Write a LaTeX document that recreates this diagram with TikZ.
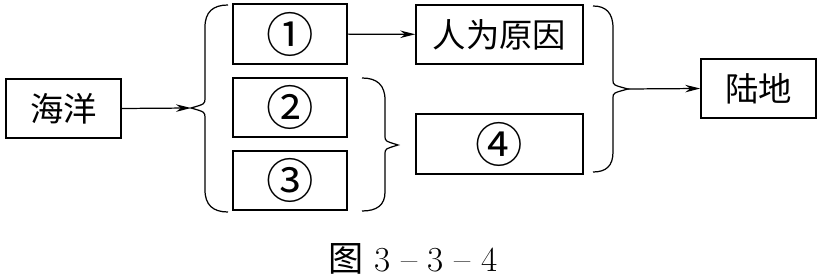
\documentclass[tikz,border=0pt]{standalone}
\usepackage{fontspec}
\newfontfamily\cjk{Noto Sans CJK SC}
\usetikzlibrary{arrows.meta}

\begin{document}
\begin{tikzpicture}[x=0.02cm,y=-0.02cm,line width=0.7pt,>={Stealth[length=3mm,width=1.5mm]},
  box/.style={draw,line width=0.9pt,inner sep=0pt,minimum height=1.19cm,font=\cjk\fontsize{19}{19}\selectfont},
  numbox/.style={box,minimum width=2.28cm,font=\cjk\fontsize{27}{27}\selectfont}]
\useasboundingbox (0,0) rectangle (820,276);
% 方框
\node[box,minimum width=2.3cm] (ocean) at (63.5,108.5) {海洋};
\node[numbox] (c1) at (290,34) {①};
\node[numbox] (c2) at (290,107.5) {②};
\node[numbox] (c3) at (290,180.5) {③};
\node[box,minimum width=3.34cm] (human) at (499.5,34.5) {人为原因};
\node[box,minimum width=3.34cm,font=\cjk\fontsize{27}{27}\selectfont] (c4) at (499.5,144) {④};
\node[box,minimum width=2.3cm] (land) at (758.5,88.5) {陆地};
% 括号尖端
\coordinate (lbrace) at (191,108);
\coordinate (mbrace) at (398,145);
\coordinate (rbrace) at (628,89);
% 左大括号
\draw (228,5) .. controls (213,5) and (205,12) .. (205,27) -- (205,98)
  .. controls (205,104) .. (lbrace) .. controls (205,112) .. (205,118) -- (205,190)
  .. controls (205,205) and (213,212) .. (228,212);
% ②③ 右括号
\draw (362,78) .. controls (377,78) and (385,85) .. (385,100) -- (385,136)
  .. controls (385,141) .. (mbrace) .. controls (385,149) .. (385,154) -- (385,192)
  .. controls (385,205) and (377,211) .. (362,211);
% 人为原因、④ 右括号
\draw (593,6) .. controls (606,6) and (613,13) .. (613,28) -- (613,80)
  .. controls (613,85) .. (rbrace) .. controls (613,93) .. (613,98) -- (613,152)
  .. controls (613,166) and (606,172) .. (593,172);
% 箭头
\draw[->] (ocean.east) -- (lbrace);
\draw[->] (c1) -- (human);
\draw[->] (rbrace) -- (land.west);
% 图题
\node[font=\fontsize{20}{20}\selectfont] (caption) at (413,259) {{\cjk 图} 3 – 3 – 4};
\end{tikzpicture}
\end{document}
